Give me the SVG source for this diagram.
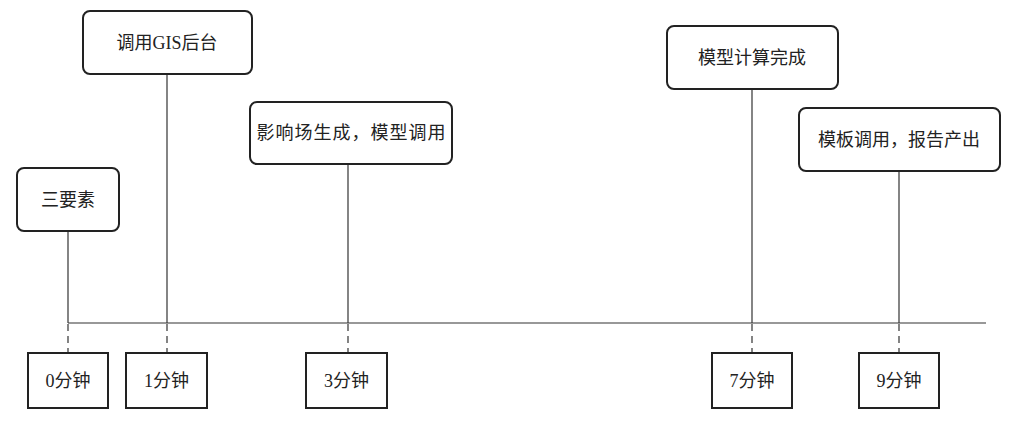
<svg xmlns="http://www.w3.org/2000/svg" width="1016" height="421" viewBox="0 0 1016 421">
<style>
.ev{fill:#fff;stroke:#222;stroke-width:2}
.tm{fill:#fff;stroke:#222;stroke-width:2}
.t{font-family:"Liberation Serif","Noto Sans CJK SC",serif;font-size:18px;fill:#222;text-anchor:middle;dominant-baseline:central}
.v{stroke:#333;stroke-width:1.2;fill:none}
.d{stroke:#333;stroke-width:1.2;stroke-dasharray:7,5;fill:none}
</style>
<rect width="1016" height="421" fill="#fff"/>
<g id="connectors">
<line class="v" x1="68" y1="323" x2="986" y2="323"/>
<line class="v" x1="68" y1="231" x2="68" y2="323"/>
<line class="v" x1="167" y1="74" x2="167" y2="323"/>
<line class="v" x1="348" y1="164" x2="348" y2="323"/>
<line class="v" x1="752" y1="89" x2="752" y2="323"/>
<line class="v" x1="899" y1="171" x2="899" y2="323"/>
<line class="d" x1="68" y1="324" x2="68" y2="353"/>
<line class="d" x1="167" y1="324" x2="167" y2="353"/>
<line class="d" x1="348" y1="324" x2="348" y2="353"/>
<line class="d" x1="752" y1="324" x2="752" y2="353"/>
<line class="d" x1="899" y1="324" x2="899" y2="353"/>
</g>
<g id="e-sanyaosu"><rect class="ev" x="17" y="168" width="102" height="63" rx="7"/><text class="t" x="68" y="199.5">三要素</text></g>
<g id="e-gis"><rect class="ev" x="83" y="11" width="169" height="63" rx="7"/><text class="t" x="167" y="42.5">调用GIS后台</text></g>
<g id="e-yingxiang"><rect class="ev" x="250" y="102" width="202" height="62" rx="7"/><text class="t" x="351.5" y="133" letter-spacing="1">影响场生成，模型调用</text></g>
<g id="e-moxing"><rect class="ev" x="667" y="26" width="171" height="63" rx="7"/><text class="t" x="752" y="57.5">模型计算完成</text></g>
<g id="e-moban"><rect class="ev" x="799" y="108" width="201" height="63" rx="7"/><text class="t" x="899" y="139.5">模板调用，报告产出</text></g>
<g id="t0"><rect class="tm" x="28" y="353" width="80" height="55"/><text class="t" x="68" y="380.5">0分钟</text></g>
<g id="t1"><rect class="tm" x="126" y="353" width="81" height="55"/><text class="t" x="166.5" y="380.5">1分钟</text></g>
<g id="t3"><rect class="tm" x="306" y="353" width="81" height="55"/><text class="t" x="346.5" y="380.5">3分钟</text></g>
<g id="t7"><rect class="tm" x="712" y="353" width="80" height="55"/><text class="t" x="752" y="380.5">7分钟</text></g>
<g id="t9"><rect class="tm" x="859" y="353" width="80" height="55"/><text class="t" x="899" y="380.5">9分钟</text></g>
</svg>
